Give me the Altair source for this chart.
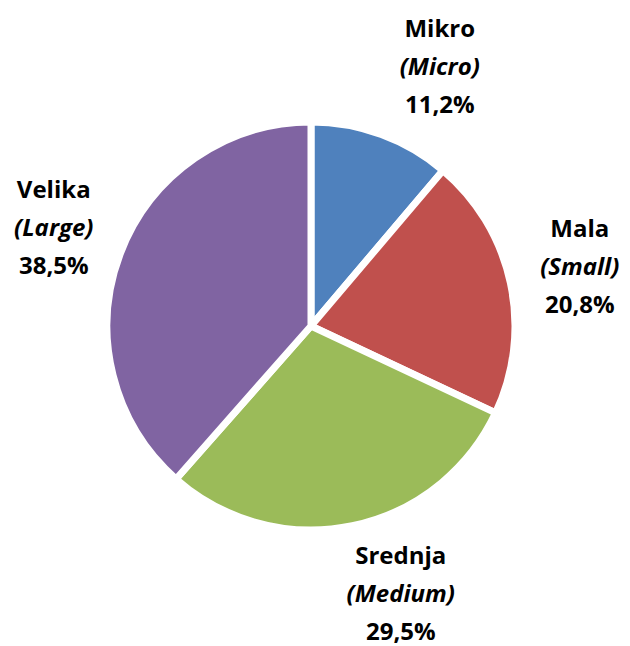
import altair as alt
import pandas as pd

names = ["Mikro", "Mala", "Srednja", "Velika"]
english = ["(Micro)", "(Small)", "(Medium)", "(Large)"]
shares = [11.2, 20.8, 29.5, 38.5]
pct_labels = ["11,2%", "20,8%", "29,5%", "38,5%"]
colors = ["#4F81BD", "#C0504D", "#9BBB59", "#8064A2"]

df = pd.DataFrame({
    "idx": list(range(len(names))),
    "name": names,
    "eng": english,
    "value": shares,
    "pct": pct_labels,
})

CX, CY = 303, 318
FONT = "Open Sans"
total = sum(shares)

pie = alt.Chart(df).mark_arc(outerRadius=204, stroke="white", strokeWidth=7).encode(
    theta=alt.Theta("value:Q", stack=True),
    order=alt.Order("idx:Q", sort="ascending"),
    x=alt.value(CX),
    y=alt.value(CY),
    color=alt.Color("name:N", scale=alt.Scale(domain=names, range=colors), legend=None),
)

text_base = alt.Chart(df).transform_window(
    cum="sum(value)", sort=[alt.SortField("idx", order="ascending")]
).transform_calculate(
    mid="datum.cum - datum.value / 2"
).encode(
    theta=alt.Theta("mid:Q", scale=alt.Scale(domain=[0, total])),
    x=alt.value(CX),
    y=alt.value(CY),
)

layers = [pie]
shifted = ["Mikro", "Srednja"]
for field, dy, italic in [("name", -38, False), ("eng", 0, True), ("pct", 38, False)]:
    for grp, dx in [(True, 34), (False, 0)]:
        pred = alt.FieldOneOfPredicate(field="name", oneOf=shifted)
        t = text_base.transform_filter(pred if grp else ~pred).mark_text(
            radius=275, dy=dy, dx=dx, font=FONT, fontSize=24, fontWeight="bold",
            fontStyle="italic" if italic else "normal", color="black",
        ).encode(text=f"{field}:N")
        layers.append(t)

chart = alt.layer(*layers).properties(
    width=614, height=640, padding=0, autosize=alt.AutoSizeParams(type="none")
).configure_view(stroke=None)

chart.save("out.html", embed_options={"renderer": "svg", "actions": False})
